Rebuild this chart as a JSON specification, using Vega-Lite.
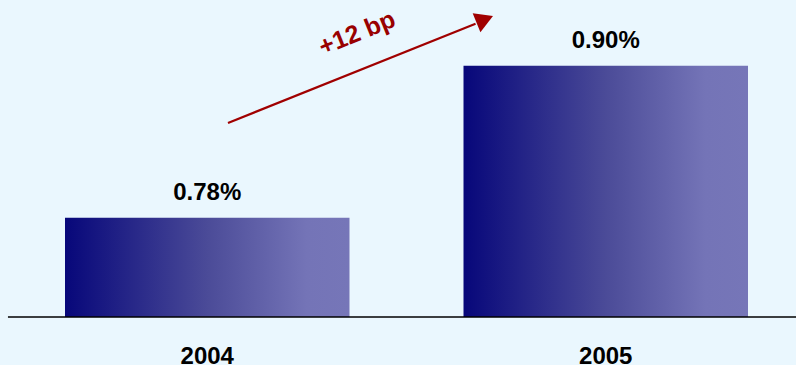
{
  "$schema": "https://vega.github.io/schema/vega-lite/v6.json",
  "width": 796,
  "height": 317,
  "autosize": {"type": "none"},
  "padding": {"left": 0, "top": 0, "right": 0, "bottom": 48},
  "background": "#EAF7FE",
  "config": {
    "view": {"stroke": null},
    "font": "Liberation Sans"
  },
  "layer": [
    {
      "data": {"values": [
        {"year": "2004", "rate": 0.0078},
        {"year": "2005", "rate": 0.0090}
      ]},
      "encoding": {
        "x": {
          "field": "year",
          "type": "nominal",
          "scale": {"range": [65, 748], "paddingInner": 0.2861, "paddingOuter": 0},
          "axis": {
            "title": null,
            "domain": false,
            "ticks": false,
            "labelAngle": 0,
            "labelFont": "Liberation Sans",
            "labelFontSize": 24,
            "labelFontWeight": "bold",
            "labelColor": "#000000",
            "labelPadding": 27
          }
        },
        "y": {
          "field": "rate",
          "type": "quantitative",
          "scale": {"domain": [0.007016, 0.009519], "zero": false, "nice": false},
          "axis": null
        }
      },
      "layer": [
        {
          "mark": {
            "type": "bar",
            "fill": {
              "gradient": "linear",
              "x1": 0, "y1": 0, "x2": 1, "y2": 0,
              "stops": [
                {"offset": 0, "color": "#07077A"},
                {"offset": 0.5, "color": "#4B4B98"},
                {"offset": 0.85, "color": "#7474B7"},
                {"offset": 1, "color": "#7676B8"}
              ]
            }
          },
          "encoding": {"y2": {"datum": 0.007016}}
        },
        {
          "mark": {
            "type": "text",
            "baseline": "alphabetic",
            "align": "center",
            "dy": -18,
            "font": "Liberation Sans",
            "fontSize": 24,
            "fontWeight": "bold",
            "color": "#000000"
          },
          "encoding": {"text": {"field": "rate", "type": "quantitative", "format": ".2%"}}
        }
      ]
    },
    {
      "data": {"values": [{"from": 0.01, "to": 1, "level": 0.007016}]},
      "mark": {"type": "rule", "color": "#000000", "strokeWidth": 1.6},
      "encoding": {
        "x": {"field": "from", "type": "quantitative", "scale": {"domain": [0, 1]}, "axis": null},
        "x2": {"field": "to"},
        "y": {"field": "level", "type": "quantitative", "scale": {"domain": [0.007016, 0.009519], "zero": false, "nice": false}, "axis": null}
      }
    },
    {
      "data": {"values": [
        {"pos": 0.2864, "rate": 0.008548},
        {"pos": 0.5974, "rate": 0.009331}
      ]},
      "mark": {"type": "line", "color": "#A00000", "strokeWidth": 2.2},
      "encoding": {
        "x": {"field": "pos", "type": "quantitative", "scale": {"domain": [0, 1]}, "axis": null},
        "y": {"field": "rate", "type": "quantitative", "scale": {"domain": [0.007016, 0.009519], "zero": false, "nice": false}, "axis": null}
      }
    },
    {
      "data": {"values": [{"pos": 0.6090, "rate": 0.009366}]},
      "mark": {"type": "point", "shape": "triangle-right", "angle": 337.8, "size": 420, "filled": true, "opacity": 1, "color": "#A00000"},
      "encoding": {
        "x": {"field": "pos", "type": "quantitative", "scale": {"domain": [0, 1]}, "axis": null},
        "y": {"field": "rate", "type": "quantitative", "scale": {"domain": [0.007016, 0.009519], "zero": false, "nice": false}, "axis": null}
      }
    },
    {
      "data": {"values": [{"pos": 0.4485, "rate": 0.009258, "note": "+12 bp"}]},
      "mark": {
        "type": "text",
        "angle": 338,
        "align": "center",
        "baseline": "middle",
        "font": "Liberation Sans",
        "fontSize": 25,
        "fontWeight": "bold",
        "color": "#990000"
      },
      "encoding": {
        "x": {"field": "pos", "type": "quantitative", "scale": {"domain": [0, 1]}, "axis": null},
        "y": {"field": "rate", "type": "quantitative", "scale": {"domain": [0.007016, 0.009519], "zero": false, "nice": false}, "axis": null},
        "text": {"field": "note"}
      }
    }
  ],
  "resolve": {"scale": {"x": "independent"}}
}
